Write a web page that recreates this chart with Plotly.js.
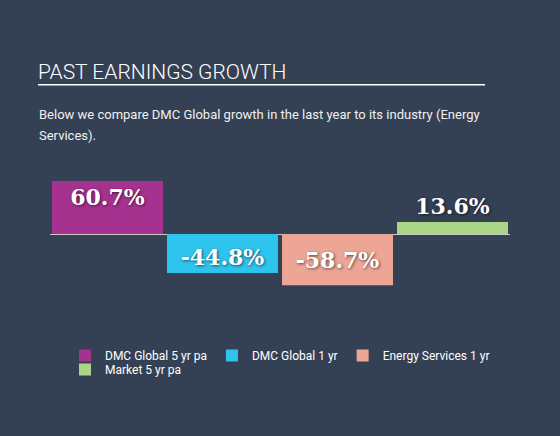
<!DOCTYPE html>
<html>
<head>
<meta charset="utf-8">
<script src="https://cdn.plot.ly/plotly-3.0.1.min.js"></script>
<style>
  html, body { margin: 0; padding: 0; background: #344154; }
  #chart { width: 560px; height: 436px; }
</style>
</head>
<body>
<div id="chart"></div>
<script>
const categories = ["DMC Global 5 yr pa", "DMC Global 1 yr", "Energy Services 1 yr", "Market 5 yr pa"];
const values = [60.7, -44.8, -58.7, 13.6];
const colors = ["#A6328F", "#2FC4EE", "#EDA696", "#ACD687"];
const labelAnchors = ["end", "end", "middle", "end"];
const labelPositions = ["inside", "inside", "inside", "outside"];
const legendGroups = ["legend", "legend", "legend", "legend2"];

const traces = categories.map((name, i) => ({
  type: "bar",
  name: name,
  legend: legendGroups[i],
  x: [name],
  y: [values[i]],
  marker: { color: colors[i], line: { width: 0 } },
  text: [values[i].toFixed(1) + "%"],
  textposition: labelPositions[i],
  insidetextanchor: labelAnchors[i],
  cliponaxis: false,
  textfont: {
    family: "DejaVu Serif",
    size: 22,
    weight: "bold",
    color: "#ffffff",
    shadow: "1px 1px 3px rgba(0,0,0,0.6)"
  },
  hoverinfo: "skip"
}));

const legendStyle = {
  orientation: "h",
  xref: "container",
  yref: "container",
  x: 65 / 560,
  xanchor: "left",
  yanchor: "top",
  font: { family: "Roboto", size: 12, color: "#ffffff" },
  bgcolor: "rgba(0,0,0,0)",
  itemclick: false,
  itemdoubleclick: false
};

const layout = {
  width: 560,
  height: 436,
  paper_bgcolor: "#344154",
  plot_bgcolor: "#344154",
  margin: { l: 50, r: 50, t: 170, b: 136 },
  barmode: "overlay",
  bargap: 0.035,
  showlegend: true,
  title: {
    text: "PAST EARNINGS GROWTH",
    font: { family: "Roboto", size: 21, color: "#ffffff", weight: 300 },
    x: 38 / 560, xanchor: "left", xref: "container",
    y: 1 - 71.5 / 436, yanchor: "middle", yref: "container"
  },
  xaxis: {
    categoryorder: "array",
    categoryarray: categories,
    showticklabels: false,
    showgrid: false,
    zeroline: false,
    showline: false,
    ticks: "",
    fixedrange: true
  },
  yaxis: {
    range: [-75.6, 73.3],
    showticklabels: false,
    showgrid: false,
    zeroline: true,
    zerolinecolor: "#c8c8c8",
    zerolinewidth: 1,
    showline: false,
    ticks: "",
    fixedrange: true
  },
  legend: Object.assign({}, legendStyle, { y: 1 - 341 / 436 }),
  legend2: Object.assign({}, legendStyle, { y: 1 - 355 / 436 }),
  shapes: [{
    type: "line",
    xref: "paper", yref: "paper",
    x0: (38 - 50) / 460, x1: (485 - 50) / 460,
    y0: (300 - 84.7) / 130, y1: (300 - 84.7) / 130,
    line: { color: "#ffffff", width: 1.5 }
  }],
  annotations: [
    {
      xref: "paper", yref: "paper",
      x: (37 - 50) / 460, xanchor: "left",
      y: (300 - 114.5) / 130, yanchor: "middle",
      align: "left",
      showarrow: false,
      text: "Below we compare DMC Global growth in the last year to its industry (Energy",
      font: { family: "Roboto", size: 13, color: "#f0f0f0" }
    },
    {
      xref: "paper", yref: "paper",
      x: (37 - 50) / 460, xanchor: "left",
      y: (300 - 135.5) / 130, yanchor: "middle",
      align: "left",
      showarrow: false,
      text: "Services).",
      font: { family: "Roboto", size: 13, color: "#f0f0f0" }
    }
  ]
};

Plotly.newPlot("chart", traces, layout, { displayModeBar: false, staticPlot: true });
</script>
</body>
</html>
